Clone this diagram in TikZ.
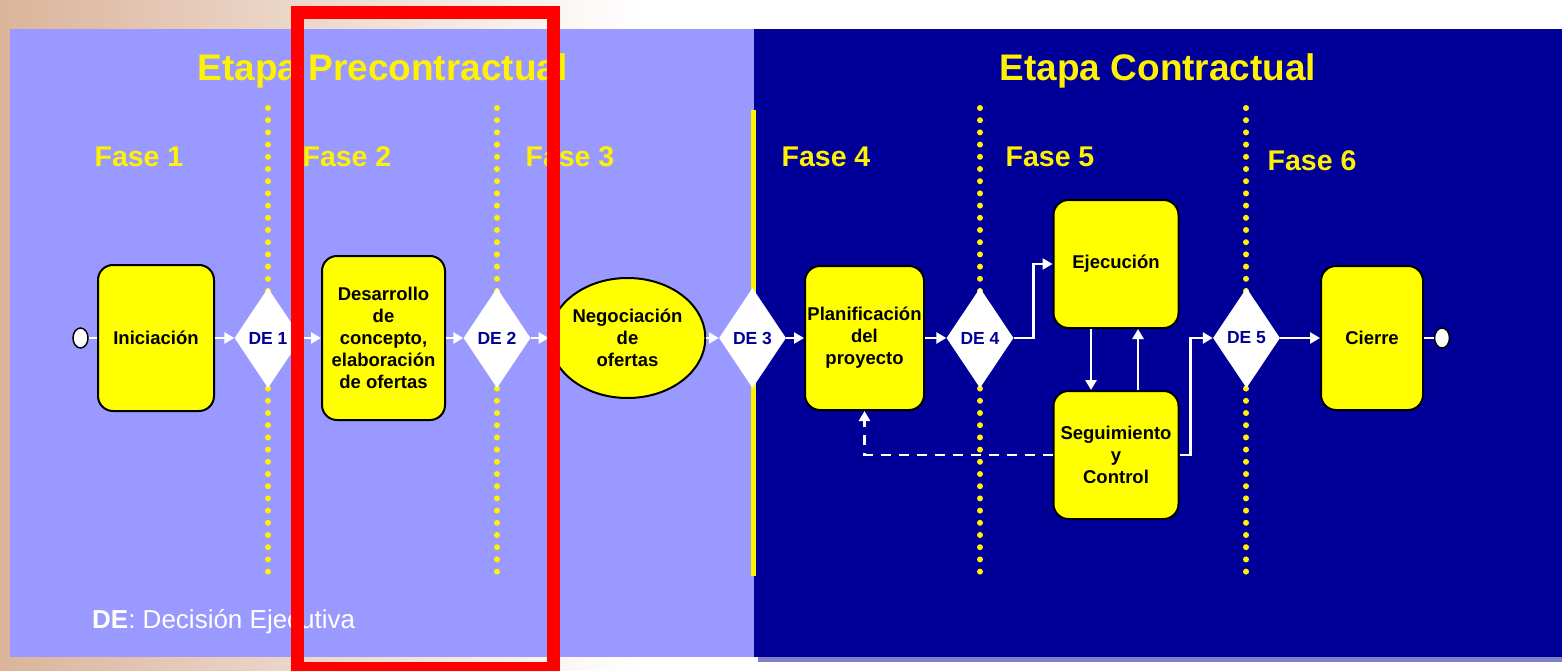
\documentclass[tikz,border=0pt]{standalone}
\usepackage{fontspec}
\setmainfont{Liberation Sans}
\usetikzlibrary{shapes.geometric,arrows.meta,calc}
\definecolor{lav}{HTML}{9999FF}
\definecolor{navy}{HTML}{000099}
\definecolor{sandtone}{HTML}{DBB49B}
\definecolor{shadowblue}{HTML}{8080C8}
\definecolor{boxyellow}{HTML}{FFFF00}
\begin{document}
\begin{tikzpicture}[x=1pt,y=-1pt,
  stepbox/.style={draw=black, line width=2pt, fill=boxyellow, rounded corners=15pt,
    inner sep=0pt, align=center, font=\fontsize{18.5}{22}\selectfont\bfseries},
  decision/.style={diamond, fill=white, inner sep=0pt, shape aspect=0.67,
    minimum width=67pt, minimum height=100pt, text=navy,
    font=\fontsize{17.5}{20}\selectfont\bfseries},
  terminal/.style={ellipse, draw=black, line width=1.5pt, fill=white, inner sep=0pt,
    minimum width=15pt, minimum height=20pt},
  flow/.style={white, line width=2.5pt, -{Triangle[length=10pt,width=11pt]}},
  plain/.style={white, line width=2.5pt},
  feedback/.style={white, line width=2.5pt, dash pattern=on 10pt off 8pt,
    -{Triangle[length=10pt,width=11pt]}},
  dotline/.style={yellow, line width=6pt, line cap=round, dash pattern=on 0pt off 12.2pt},
  phase/.style={text=yellow, font=\fontsize{28.5}{32}\selectfont\bfseries},
  stage/.style={text=yellow, anchor=base, font=\fontsize{37}{40}\selectfont\bfseries}]
\useasboundingbox (0,0) rectangle (1562,671);

% backdrop
\fill[white] (0,0) rectangle (1562,671);
\shade[left color=sandtone, right color=white] (0,0) rectangle (640,671);

% the two stages
\fill[lav] (10,29) rectangle (754,657);
\fill[navy] (754,29) rectangle (1562,657);
\fill[shadowblue] (758,657) rectangle (1562,662);

% phase boundaries
\draw[dotline] (268,108) -- (268,576);
\draw[dotline] (497,108) -- (497,576);
\draw[dotline] (980,108) -- (980,576);
\draw[dotline] (1246,108) -- (1246,576);
\draw[yellow, line width=5pt] (753.5,110) -- (753.5,576);

% headings
\node[stage] (st1) at (382.5,81) {Etapa Precontractual};
\node[stage] (st2) at (1158,81) {Etapa Contractual};
\node[phase] (f1) at (139,157) {Fase 1};
\node[phase] (f2) at (347,157) {Fase 2};
\node[phase] (f3) at (570,157) {Fase 3};
\node[phase] (f4) at (826,157) {Fase 4};
\node[phase] (f5) at (1050,157) {Fase 5};
\node[phase] (f6) at (1312,161) {Fase 6};

% process steps
\node[terminal] (start) at (80.5,338) {};
\node[stepbox, minimum width=116pt, minimum height=146pt] (ini) at (156,338) {Iniciación};
\node[decision] (de1) at (268,338) {DE 1};
\node[stepbox, minimum width=123pt, minimum height=164pt] (des) at (383.5,338)
  {Desarrollo\\de\\concepto,\\elaboración\\de ofertas};
\node[decision] (de2) at (497,338) {DE 2};
\node[ellipse, draw=black, line width=2pt, fill=boxyellow, inner sep=0pt,
  minimum width=147pt, minimum height=120pt, align=center,
  font=\fontsize{18.5}{22}\selectfont\bfseries] (neg) at (627.5,338)
  {Negociación\\de\\ofertas};
\node[decision] (de3) at (752.5,338) {DE 3};
\node[stepbox, minimum width=119pt, minimum height=144pt] (plan) at (864.5,338)
  {Planificación\\del\\proyecto};
\node[decision] (de4) at (980,338) {DE 4};
\node[stepbox, minimum width=125pt, minimum height=128pt] (eje) at (1116,264) {Ejecución};
\node[stepbox, minimum width=125pt, minimum height=128pt] (seg) at (1116,455)
  {Seguimiento\\y\\Control};
\node[decision] (de5) at (1246.5,338) {DE 5};
\node[stepbox, minimum width=102pt, minimum height=144pt] (cie) at (1372,338) {Cierre};
\node[terminal] (fin) at (1442,338) {};

% connectors
\draw[plain] (start) -- (ini);
\draw[flow] (ini) -- (de1);
\draw[flow] (de1) -- (des);
\draw[flow] (des) -- (de2);
\draw[flow] (de2) -- (neg);
\draw[flow] (neg) -- (de3);
\draw[flow] (de3) -- (plan);
\draw[flow] (plan) -- (de4);
\draw[flow] (de4.east) -- ($(de4.east)+(20,0)$) |- (eje.west);
\draw[flow] ([xshift=-25pt]eje.south) -- ([xshift=-25pt]seg.north);
\draw[flow] ([xshift=22pt]seg.north) -- ([xshift=22pt]eje.south);
\draw[flow] (seg.east) -- ($(seg.east)+(11,0)$) |- (de5.west);
\draw[flow] (de5) -- (cie);
\draw[plain] (cie) -- (fin);
\draw[feedback] (seg.west) -| (plan.south);

% legend
\node[anchor=base west, text=white, inner sep=0pt, font=\fontsize{26}{28}\selectfont]
  (legend) at (92,628) {\textbf{DE}: Decisión Ejecutiva};

% highlight frame
\draw[red, line width=13pt] (297.5,12.5) rectangle (553.5,668.5);
\end{tikzpicture}
\end{document}
